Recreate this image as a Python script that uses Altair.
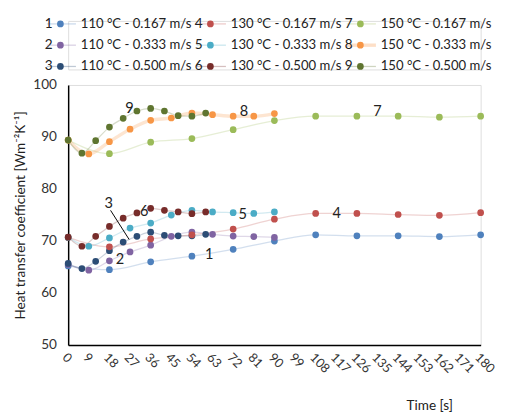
import altair as alt
import pandas as pd

FONT = "Lato"

# ---- data ----
series_ids = [1, 2, 3, 4, 5, 6, 7, 8, 9]
series_names = [
    "110 °C - 0.167 m/s", "110 °C - 0.333 m/s", "110 °C - 0.500 m/s",
    "130 °C - 0.167 m/s", "130 °C - 0.333 m/s", "130 °C - 0.500 m/s",
    "150 °C - 0.167 m/s", "150 °C - 0.333 m/s", "150 °C - 0.500 m/s",
]
series_colors = ["#4F81BD", "#8064A2", "#2C4D75", "#C0504D", "#4BACC6",
                 "#772C2A", "#9BBB59", "#F79646", "#5F7530"]

t_slow = [0, 18, 36, 54, 72, 90, 108, 126, 144, 162, 180]   # 0.167 m/s
t_mid = [0, 9, 18, 27, 36, 45, 54, 63, 72, 81, 90]          # 0.333 m/s
t_fast = [0, 6, 12, 18, 24, 30, 36, 42, 48, 54, 60]          # 0.500 m/s

s1 = [65.2, 64.5, 66.0, 67.1, 68.4, 70.0, 71.2, 71.0, 71.0, 70.85, 71.2]
s2 = [65.5, 64.4, 66.2, 67.9, 69.2, 70.9, 71.7, 71.3, 70.95, 70.85, 70.7]
s3 = [65.7, 64.7, 66.1, 68.15, 69.8, 70.9, 71.7, 71.1, 71.0, 71.0, 71.3]
s4 = [70.7, 68.9, 70.4, 71.2, 72.3, 74.2, 75.3, 75.3, 75.1, 74.95, 75.45]
s5 = [70.7, 69.0, 70.6, 72.5, 73.45, 75.0, 75.9, 75.6, 75.45, 75.3, 75.6]
s6 = [70.75, 69.0, 70.9, 72.8, 74.4, 75.4, 76.3, 75.9, 75.6, 75.25, 75.6]
s7 = [89.4, 86.8, 89.0, 89.7, 91.4, 93.15, 94.0, 94.0, 94.0, 93.8, 94.0]
s8 = [89.4, 86.75, 89.1, 91.5, 93.2, 93.65, 94.6, 94.3, 94.0, 94.0, 94.5]
s9 = [89.4, 86.9, 89.3, 91.9, 93.6, 95.0, 95.5, 95.0, 94.1, 94.0, 94.6]

series_values = [s1, s2, s3, s4, s5, s6, s7, s8, s9]
series_times = [t_slow, t_mid, t_fast] * 3

x_ticks = list(range(0, 181, 9))
y_ticks = [50, 60, 70, 80, 90, 100]

# in-plot series number labels (time, value)
label_text = ["1", "2", "3", "4", "5", "6", "7", "8", "9"]
label_t = [61.5, 22.6, 17.7, 117.2, 76.2, 33.2, 135.0, 76.7, 26.8]
label_v = [67.5, 66.6, 77.2, 75.3, 75.2, 75.8, 94.9, 94.9, 95.6]

# leader line for label "3"
leader_t = [18.5, 26.6]
leader_v = [75.9, 70.3]

# ---- frames ----
rows = []
for sid, name, ts, vs in zip(series_ids, series_names, series_times, series_values):
    for i, (t, v) in enumerate(zip(ts, vs)):
        rows.append({"sid": sid, "name": name, "t": t, "v": v, "i": i})
df = pd.DataFrame(rows)

lab_df = pd.DataFrame({"txt": label_text, "t": label_t, "v": label_v})
lead_df = pd.DataFrame({"t": [leader_t[0]], "v": [leader_v[0]],
                        "t2": [leader_t[1]], "v2": [leader_v[1]]})

color_scale = alt.Scale(domain=series_ids, range=series_colors)

x_axis = alt.Axis(values=x_ticks, title="Time [s]", labelAngle=45,
                  labelAlign="left", labelBaseline="top",
                  labelPadding=6, ticks=False, grid=False,
                  domainColor="black", domainWidth=1.5,
                  labelFontSize=13, labelFont=FONT,
                  labelColor="#333", titleFont=FONT,
                  titleFontSize=14, titleFontWeight="normal",
                  titleColor="#222", titleX=396, titleY=62,
                  titleAlign="right", titleBaseline="middle",
                  labelOverlap=False)
y_axis = alt.Axis(values=y_ticks, title="Heat transfer coefficient [Wm⁻²K⁻¹]",
                  ticks=False, grid=False, domainColor="black",
                  domainWidth=1.5, labelPadding=12, labelFontSize=14,
                  labelFont=FONT, labelColor="#333", titleFont=FONT,
                  titleFontSize=14, titleFontWeight="normal",
                  titleColor="#222", titlePadding=6, labelOverlap=False)
x_enc = alt.X("t:Q", scale=alt.Scale(domain=[0, 180], nice=False), axis=x_axis)
y_enc = alt.Y("v:Q", scale=alt.Scale(domain=[50, 100], nice=False, zero=False), axis=y_axis)

lines = alt.Chart(df).mark_line(interpolate="monotone", opacity=0.25).encode(
    x=x_enc, y=y_enc,
    color=alt.Color("sid:N", scale=color_scale, legend=None),
    detail="sid:N",
    order="i:Q",
    strokeWidth=alt.condition("datum.sid == 8", alt.value(3.5), alt.value(1.3)),
)

points = alt.Chart(df).mark_circle(size=48, opacity=1).encode(
    x=x_enc, y=y_enc,
    color=alt.Color("sid:N", scale=color_scale, legend=None),
)

labels = alt.Chart(lab_df).mark_text(font=FONT, fontSize=15, color="#222").encode(
    x=x_enc, y=y_enc, text="txt:N")

leader = alt.Chart(lead_df).mark_rule(color="black", strokeWidth=1).encode(
    x=x_enc, y=y_enc, x2="t2:Q", y2="v2:Q")

main = alt.layer(lines, points, leader, labels).properties(width=425, height=268)

# ---- legend panel ----
leg_df = pd.DataFrame({
    "sid": series_ids,
    "num": [str(s) for s in series_ids],
    "name": series_names,
    "col": [(s - 1) // 3 for s in series_ids],
    "row": [(s - 1) % 3 for s in series_ids],
})
lx = alt.X("col:Q", scale=alt.Scale(domain=[0, 2.75], nice=False, zero=False), axis=None)
ly = alt.Y("row:O", scale=alt.Scale(type="point", padding=0.14), axis=None)

leg_line = alt.Chart(leg_df).mark_rule(opacity=0.3, xOffset=-22, x2Offset=8).encode(
    x=lx, x2="col:Q", y=ly,
    color=alt.Color("sid:N", scale=color_scale, legend=None),
    strokeWidth=alt.condition("datum.sid == 8", alt.value(3.5), alt.value(1.3)),
)
leg_pt = alt.Chart(leg_df).mark_circle(size=48, opacity=1, xOffset=-8).encode(
    x=lx, y=ly, color=alt.Color("sid:N", scale=color_scale, legend=None))
leg_num = alt.Chart(leg_df).mark_text(font=FONT, fontSize=14, color="#222",
                                      dx=-20, align="center", baseline="middle").encode(
    x=lx, y=ly, text="num:N")
leg_txt = alt.Chart(leg_df).mark_text(font=FONT, fontSize=13.5, color="#222",
                                      dx=13, align="left", baseline="middle").encode(
    x=lx, y=ly, text="name:N")

legend = alt.layer(leg_line, leg_pt, leg_num, leg_txt).properties(width=425, height=50)

chart = (alt.vconcat(legend, main, spacing=3)
         .properties(padding={"left": 5, "top": 2, "right": 5, "bottom": 5})
         .configure_view(stroke=None)
         .configure_axis(labelOverlap=False)
         .configure(background="white"))

chart.save("out.html", embed_options={"renderer": "svg", "actions": False})
